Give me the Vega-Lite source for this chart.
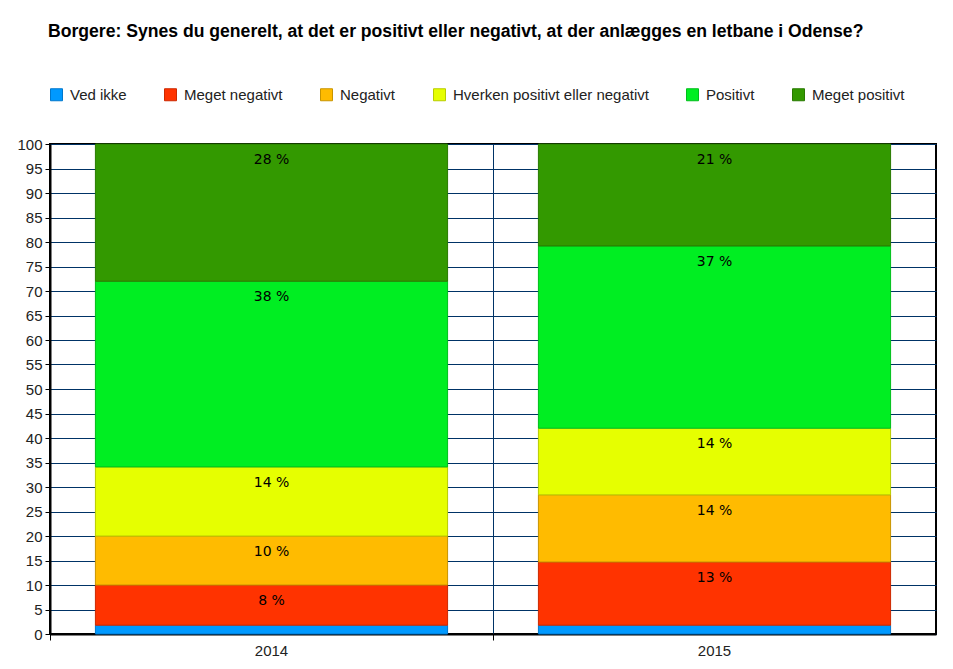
{
  "$schema": "https://vega.github.io/schema/vega-lite/v6.json",
  "width": 886,
  "height": 490,
  "autosize": "none",
  "padding": {"left": 50, "top": 144, "right": 17, "bottom": 35},
  "background": "white",
  "title": {
    "text": "Borgere: Synes du generelt, at det er positivt eller negativt, at der anlægges en letbane i Odense?",
    "anchor": "start",
    "frame": "group",
    "font": "Liberation Sans",
    "fontSize": 17.6,
    "fontWeight": "bold",
    "color": "#000000",
    "offset": 46,
    "dx": -2
  },
  "data": {
    "values": [
      {"year": "2014", "answer": "Ved ikke", "ord": 1, "value": 1.8},
      {"year": "2014", "answer": "Meget negativt", "ord": 2, "value": 8.2},
      {"year": "2014", "answer": "Negativt", "ord": 3, "value": 10.0},
      {"year": "2014", "answer": "Hverken positivt eller negativt", "ord": 4, "value": 14.1},
      {"year": "2014", "answer": "Positivt", "ord": 5, "value": 37.9},
      {"year": "2014", "answer": "Meget positivt", "ord": 6, "value": 28.0},
      {"year": "2015", "answer": "Ved ikke", "ord": 1, "value": 1.8},
      {"year": "2015", "answer": "Meget negativt", "ord": 2, "value": 12.9},
      {"year": "2015", "answer": "Negativt", "ord": 3, "value": 13.7},
      {"year": "2015", "answer": "Hverken positivt eller negativt", "ord": 4, "value": 13.6},
      {"year": "2015", "answer": "Positivt", "ord": 5, "value": 37.2},
      {"year": "2015", "answer": "Meget positivt", "ord": 6, "value": 20.8}
    ]
  },
  "transform": [
    {"stack": "value", "groupby": ["year"], "sort": [{"field": "ord", "order": "ascending"}], "as": ["y0", "y1"]}
  ],
  "config": {
    "view": {"stroke": "#000000", "strokeWidth": 2},
    "font": "Liberation Sans",
    "axisY": {
      "values": [0, 5, 10, 15, 20, 25, 30, 35, 40, 45, 50, 55, 60, 65, 70, 75, 80, 85, 90, 95, 100],
      "labelOverlap": false,
      "grid": true,
      "gridColor": "#003366",
      "gridWidth": 1,
      "gridOpacity": 1,
      "domainColor": "#000000",
      "domainWidth": 2,
      "tickColor": "#000000",
      "tickSize": 5,
      "tickWidth": 1,
      "labelFont": "Liberation Sans",
      "labelFontSize": 15,
      "labelColor": "#222222",
      "labelPadding": 3
    }
  },
  "encoding": {
    "x": {
      "field": "year",
      "type": "nominal",
      "scale": {"paddingInner": 0, "paddingOuter": 0},
      "axis": {
        "title": null,
        "labelAngle": 0,
        "bandPosition": 0,
        "grid": true,
        "gridColor": "#003366",
        "gridWidth": 1,
        "gridOpacity": 1,
        "domainColor": "#000000",
        "domainWidth": 2,
        "tickColor": "#000000",
        "tickSize": 6,
        "tickWidth": 1,
        "labelFont": "Liberation Sans",
        "labelFontSize": 15,
        "labelColor": "#222222",
        "labelPadding": 3
      }
    },
    "y": {
      "type": "quantitative",
      "scale": {"domain": [0, 100], "nice": false},
      "axis": {
        "title": null,
        "values": [0, 5, 10, 15, 20, 25, 30, 35, 40, 45, 50, 55, 60, 65, 70, 75, 80, 85, 90, 95, 100],
        "labelOverlap": false
      }
    }
  },
  "layer": [
    {
      "mark": {"type": "bar", "width": {"band": 0.795}, "strokeWidth": 1},
      "encoding": {
        "y": {
          "field": "y0",
          "type": "quantitative",
          "scale": {"domain": [0, 100], "nice": false},
          "axis": {
            "title": null,
            "values": [0, 5, 10, 15, 20, 25, 30, 35, 40, 45, 50, 55, 60, 65, 70, 75, 80, 85, 90, 95, 100],
            "labelOverlap": false
          }
        },
        "y2": {"field": "y1"},
        "fill": {
          "field": "answer",
          "type": "nominal",
          "sort": ["Ved ikke", "Meget negativt", "Negativt", "Hverken positivt eller negativt", "Positivt", "Meget positivt"],
          "scale": {
            "domain": ["Ved ikke", "Meget negativt", "Negativt", "Hverken positivt eller negativt", "Positivt", "Meget positivt"],
            "range": ["#0099FF", "#FF3300", "#FFBB00", "#E6FF00", "#00EE22", "#339900"]
          },
          "legend": {
            "title": null,
            "orient": "none",
            "legendX": -1,
            "legendY": -57,
            "direction": "horizontal",
            "columns": 6,
            "columnPadding": 35,
            "symbolType": "square",
            "symbolSize": 144,
            "symbolStrokeColor": "#000000",
            "symbolStrokeWidth": 1,
            "symbolOpacity": 1,
            "labelFont": "Liberation Sans",
            "labelFontSize": 15,
            "labelColor": "#222222",
            "labelOffset": 6,
            "labelLimit": 400
          }
        },
        "stroke": {
          "field": "answer",
          "type": "nominal",
          "scale": {
            "domain": ["Ved ikke", "Meget negativt", "Negativt", "Hverken positivt eller negativt", "Positivt", "Meget positivt"],
            "range": ["#0077cc", "#cc2900", "#c89400", "#b8cc00", "#00be1b", "#297a00"]
          },
          "legend": null
        }
      }
    },
    {
      "transform": [
        {"filter": "datum.value >= 3"},
        {"calculate": "format(round(datum.value), 'd') + ' %'", "as": "label"}
      ],
      "mark": {"type": "text", "baseline": "middle", "align": "center", "dy": 16, "font": "DejaVu Sans", "fontSize": 14, "color": "#000000"},
      "encoding": {
        "y": {
          "field": "y1",
          "type": "quantitative",
          "scale": {"domain": [0, 100], "nice": false},
          "axis": {
            "title": null,
            "values": [0, 5, 10, 15, 20, 25, 30, 35, 40, 45, 50, 55, 60, 65, 70, 75, 80, 85, 90, 95, 100],
            "labelOverlap": false
          }
        },
        "text": {"field": "label"}
      }
    }
  ]
}
